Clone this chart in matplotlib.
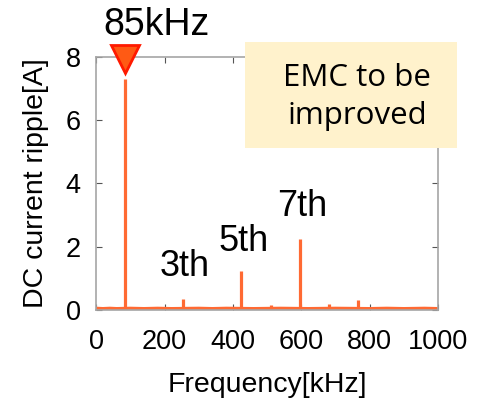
import matplotlib.pyplot as plt
from matplotlib.patches import Rectangle

# spectrum of the DC current ripple
base_freq = [0, 20, 40, 60, 100, 140, 180, 220, 300, 340, 380, 460, 540, 620, 700,
             800, 850, 900, 960, 1000]
base_amp = [0.05, 0.04, 0.05, 0.04, 0.05, 0.04, 0.05, 0.04, 0.05, 0.04, 0.05,
            0.04, 0.05, 0.04, 0.05, 0.04, 0.05, 0.04, 0.05, 0.04]

peak_freq = [25, 85, 160, 255, 340, 425, 470, 510, 595, 640, 680, 765, 930]
peak_amp = [0.08, 7.3, 0.06, 0.35, 0.1, 1.23, 0.08, 0.15, 2.25, 0.08, 0.18, 0.32, 0.08]

harm_labels = ["3th", "5th", "7th"]
harm_label_x = [260, 430, 602]
harm_label_y = [1.36, 2.15, 3.26]

fund_freq = 85
fund_label = "85kHz"

ORANGE = "#FF6A33"

plt.rcParams["font.family"] = ["Liberation Sans", "DejaVu Sans"]

fig = plt.figure(figsize=(4.83, 4.04), dpi=100)
ax = fig.add_axes([0.199, 0.233, 0.708, 0.626])

ax.plot(base_freq, base_amp, color=ORANGE, lw=2.3, solid_capstyle="butt")
ax.vlines(peak_freq, 0, peak_amp, color=ORANGE, lw=2.3)

ax.set_xlim(0, 1000)
ax.set_ylim(0, 8)
ax.set_xticks(range(0, 1001, 200))
ax.set_yticks(range(0, 9, 2))
ax.tick_params(direction="in", top=True, right=True, length=4, width=0.8,
               color="#555555", labelsize=19.5)
ax.tick_params(axis="x", pad=14)
ax.tick_params(axis="y", pad=11)
for s in ax.spines.values():
    s.set_color("#A6A6A6")
    s.set_linewidth(1.2)

ax.set_xlabel("Frequency[kHz]", fontsize=20.5, labelpad=12)
ax.set_ylabel("DC current ripple[A]", fontsize=20.5, labelpad=12)

# fundamental marker + label
ax.plot([fund_freq], [7.95], marker="v", ms=20, mfc="#FF5A14", mec="#FF1A00",
        mew=2, clip_on=False, zorder=5)
ax.text(178, 9.02, fund_label, fontsize=27, ha="center", va="center",
        clip_on=False)

for lab, x, y in zip(harm_labels, harm_label_x, harm_label_y):
    ax.text(x, y, lab, fontsize=26, ha="center", va="center")

# highlighted note box
fig.patches.append(Rectangle((245 / 483, 1 - 148 / 404), 212 / 483, 106 / 404,
                             transform=fig.transFigure, facecolor="#FFF2CC",
                             edgecolor="none", zorder=3))
fig.text(357 / 483, 1 - 97 / 404, "EMC to be\nimproved", fontsize=22.5,
         family=["Open Sans", "DejaVu Sans"], ha="center", va="center",
         linespacing=1.35, zorder=4)

fig.savefig("out.png", dpi=100)
